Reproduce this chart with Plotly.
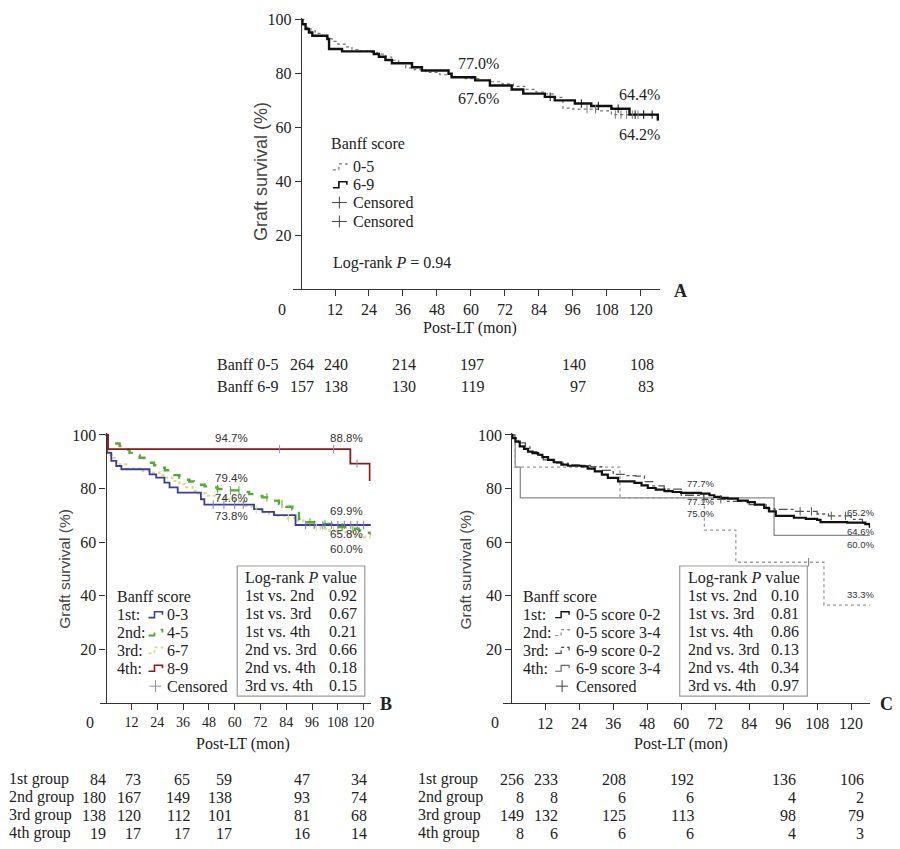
import plotly.graph_objects as go

# ---------------- data ----------------
# Panel A: Banff score 0-5 vs 6-9 (step points: time in months, survival %)
a_t_05 = [0, 1, 2, 3.5, 5, 7, 9, 11, 13, 15.5, 18, 21, 24, 27, 30, 32, 34.5, 37, 40, 44, 49, 53, 58,
          63, 67, 71, 75, 79, 83, 86, 89, 92.5, 96, 105, 109.6, 122, 126]
a_s_05 = [100, 98.6, 97.2, 96, 95, 94, 93, 92, 91, 90, 89, 88.4, 87.9, 87.3, 86.2, 85, 83.8, 82.2, 81.5,
          80.5, 79.6, 78.7, 78.2, 77.5, 77, 76.2, 75.3, 74.2, 73.2, 72.5, 71.2, 67.2, 66.8, 66.2, 64.8, 64.5, 62.5]
a_t_69 = [0, 0.5, 1.6, 2.8, 4.0, 9.3, 9.9, 14.5, 25.7, 27.5, 29.8, 32.1, 39.2, 42.7, 52.1, 53.2, 61.5,
          66.7, 74.4, 78.5, 86.1, 89.6, 96.7, 102.5, 109.6, 116, 126]
a_s_69 = [100, 98.4, 96.6, 95.3, 94.1, 92.9, 89.2, 88.3, 87.3, 86.3, 85.1, 83.9, 82.4, 81.2, 80.0, 78.7,
          77.5, 75.6, 74.1, 72.6, 71.4, 70.1, 68.9, 68.0, 67.0, 64.8, 62.6]
a_cens_t_05 = [101, 104, 111, 113, 115, 117, 119, 121]
a_cens_s_05 = [66.8, 66.8, 64.8, 64.8, 64.8, 64.8, 64.8, 64.8]
a_cens_t_69 = [88, 99, 105, 112, 118, 121, 124]
a_cens_s_69 = [71.4, 68.9, 68.0, 67.0, 64.8, 64.8, 64.8]

# Panel B: four Banff score groups
b_t_1 = [0, 0.6, 2.6, 4.9, 7.3, 20.4, 23.5, 27.3, 29.7, 33.5, 44.3, 45.9, 69, 72.9, 78.3, 88.3, 123.7]
b_s_1 = [100, 93.3, 90.3, 88.4, 87.2, 85.3, 84.1, 82.2, 80.4, 78.5, 76.0, 74.0, 72.3, 71.3, 70.1, 66.4, 66.4]
b_t_2 = [0, 0.8, 3, 6.5, 9, 11.1, 13.5, 15.8, 18, 20.4, 22.5, 25, 27.5, 29.7, 32, 34.3, 36.5, 38.9, 41,
         43.5, 46, 48.2, 52, 57.4, 63, 66.7, 70, 72.9, 77, 80.6, 84, 86.8, 89.9, 93, 97, 100.7, 105,
         108.4, 113, 117.7, 121, 123.3]
b_s_2 = [100, 97.7, 96.8, 95.8, 94.5, 93.3, 92.3, 91.5, 90.5, 89.6, 88.7, 87.8, 86.8, 85.9, 85, 84.1,
         83.3, 82.6, 82, 81.4, 80.8, 80.4, 79.8, 79.3, 78.7, 77.9, 77.2, 76.7, 75.5, 74.2, 73.2, 72.3,
         68.6, 67.4, 67, 66.8, 66.2, 65.6, 65, 64.4, 63.5, 62.6]
b_t_3 = [0, 0.8, 2, 3.4, 5, 6.5, 9.6, 17.3, 21.9, 25, 28.1, 31, 34.3, 37, 40.4, 43, 46.6, 51, 55.9, 62,
         65, 68, 72, 76, 80, 84, 88, 92, 96, 100, 104, 108, 112, 116, 119, 123.3]
b_s_3 = [100, 93.9, 92.5, 91.4, 90, 89, 87.4, 86.5, 85.9, 85, 84.1, 82.8, 81.6, 80.5, 79.1, 78.2, 77.3,
         76.6, 76.0, 75, 73.5, 72.3, 71.1, 70.5, 69.8, 69, 68, 67, 65.6, 65, 64.3, 63.7, 63, 62.2, 61.8, 60.9]
b_t_4 = [0, 1.1, 113.8, 122.8]
b_s_4 = [100, 94.7, 89.3, 82.8]
b_cens_t_1 = [50, 55, 60, 64, 93, 97, 101, 105, 108, 111, 114, 117, 120]
b_cens_s_1 = [74.0, 74.0, 74.0, 74.0, 66.4, 66.4, 66.4, 66.4, 66.4, 66.4, 66.4, 66.4, 66.4]
b_cens_t_2 = [52, 58, 62, 75, 82, 95, 102, 110, 115]
b_cens_s_2 = [79.8, 79.3, 79.3, 76.7, 74.2, 67.4, 66.8, 65.6, 65.0]
b_cens_t_3 = [60, 70, 85, 98, 106, 114]
b_cens_s_3 = [76.0, 72.3, 69, 65.6, 64.3, 63]
b_cens_t_4 = [80.9, 106, 116.9]
b_cens_s_4 = [94.7, 94.7, 89.3]

# Panel C: Banff group x score
c_t_1 = [0, 0.3, 1.5, 3.0, 4.5, 5.9, 7.5, 9.5, 11, 13.0, 15, 17.7, 20, 24.8, 27, 29.5, 32, 34.1, 37.7,
         43.5, 46, 48.2, 51, 54.1, 57, 60, 67, 70, 71.7, 74, 76.4, 80, 83.5, 86, 89.3, 91, 93.4, 99.8,
         104, 108, 109.2, 118.6, 125, 126.6]
c_s_1 = [100, 98.8, 97.5, 95.7, 94.8, 93.8, 93.2, 92.6, 91.7, 90.7, 89.8, 88.9, 88.5, 88.3, 87.4, 86.4,
         85.2, 84, 82.7, 82.1, 81.2, 80.2, 79.6, 79, 78.7, 78.4, 78.1, 77.5, 76.9, 76.5, 76.2, 75.5, 74.9,
         74, 72.8, 71.5, 69.8, 69.1, 68.7, 68.3, 67.5, 67.3, 66.7, 65.4]
c_t_2 = [0, 1.4, 38.4, 68.2, 79.3, 110.4, 126.6]
c_s_2 = [100, 88, 76.5, 64.5, 52.5, 36.5, 36.5]
c_t_3 = [0, 1, 2.5, 5, 6.6, 9, 11.3, 16, 20, 24, 28, 32, 36, 40, 44, 47, 50, 54, 60, 68, 76, 84, 90,
         93, 100, 108, 112, 120, 124, 126.6]
c_s_3 = [100, 98.8, 97, 95.5, 93.8, 92.5, 90.7, 89.5, 88.8, 88.6, 88.2, 86.8, 85.3, 84.8, 84.6, 82.6,
         81, 79.8, 77.5, 76, 75.2, 74, 72.5, 72.2, 71.5, 70.5, 69.8, 68.5, 67, 65.5]
c_t_4 = [0, 1.4, 3.2, 92.8, 126.6]
c_s_4 = [100, 88, 76.5, 62.5, 62.5]
c_cens_t_2 = [105]
c_cens_s_2 = [52.5]
c_cens_t_3 = [74, 102, 106, 113, 118]
c_cens_s_3 = [76.0, 71.5, 71.5, 69.8, 69.8]

# number at risk tables
risk_times = [0, 12, 36, 60, 96, 120]
a_risk_labels = ["Banff 0-5", "Banff 6-9"]
a_risk = [[264, 240, 214, 197, 140, 108], [157, 138, 130, 119, 97, 83]]
group_labels = ["1st group", "2nd group", "3rd group", "4th group"]
b_risk = [[84, 73, 65, 59, 47, 34], [180, 167, 149, 138, 93, 74],
          [138, 120, 112, 101, 81, 68], [19, 17, 17, 17, 16, 14]]
c_risk = [[256, 233, 208, 192, 136, 106], [8, 8, 6, 6, 4, 2],
          [149, 132, 125, 113, 98, 79], [8, 6, 6, 6, 4, 3]]

# log-rank tables
comparisons = ["1st vs. 2nd", "1st vs. 3rd", "1st vs. 4th", "2nd vs. 3rd", "2nd vs. 4th", "3rd vs. 4th"]
b_pvals = ["0.92", "0.67", "0.21", "0.66", "0.18", "0.15"]
c_pvals = ["0.10", "0.81", "0.86", "0.13", "0.34", "0.97"]

# legends / labels
a_groups = ["0-5", "6-9"]
b_prefix = ["1st:", "2nd:", "3rd:", "4th:"]
b_groups = ["0-3", "4-5", "6-7", "8-9"]
c_groups = ["0-5 score 0-2", "0-5 score 3-4", "6-9 score 0-2", "6-9 score 3-4"]
a_pct = ["77.0%", "67.6%", "64.4%", "64.2%"]
b_pct = ["94.7%", "88.8%", "79.4%", "74.6%", "73.8%", "69.9%", "65.8%", "60.0%"]
c_pct = ["77.7%", "77.1%", "75.0%", "65.2%", "64.6%", "60.0%", "33.3%"]

# ---------------- figure ----------------
W, H = 900, 849
SERIF = "Liberation Serif"
SANS = "Liberation Sans"
TXT = "#222222"


def px(x):
    return x / W


def py(y):
    return 1 - y / H


fig = go.Figure()


def curve(t, s, ax, color, width, dash="solid"):
    fig.add_trace(go.Scatter(x=t, y=s, mode="lines", xaxis="x" + ax, yaxis="y" + ax,
                             line=dict(shape="hv", color=color, width=width, dash=dash),
                             hoverinfo="skip"))


def censor(t, s, ax, color):
    fig.add_trace(go.Scatter(x=t, y=s, mode="markers", xaxis="x" + ax, yaxis="y" + ax,
                             marker=dict(symbol="line-ns", size=6, color=color,
                                         line=dict(width=1, color=color)),
                             hoverinfo="skip"))


def note(x, y, text, size=16, family=SERIF, anchor="left", color=TXT, **kw):
    fig.add_annotation(x=px(x), y=py(y), xref="paper", yref="paper", text=text, showarrow=False,
                       xanchor=anchor, yanchor="middle", font=dict(family=family, size=size, color=color),
                       **kw)


def step_icon(x0, yc, color, width, dash="solid"):
    path = (f"M {px(x0)},{py(yc + 3)} L {px(x0 + 6)},{py(yc + 3)} L {px(x0 + 6)},{py(yc - 3)} "
            f"L {px(x0 + 14)},{py(yc - 3)} L {px(x0 + 14)},{py(yc)}")
    fig.add_shape(type="path", path=path, xref="paper", yref="paper",
                  line=dict(color=color, width=width, dash=dash))


def cross_icon(x0, yc, color, w=15):
    fig.add_shape(type="line", xref="paper", yref="paper", x0=px(x0), x1=px(x0 + w),
                  y0=py(yc), y1=py(yc), line=dict(color=color, width=1))
    fig.add_shape(type="line", xref="paper", yref="paper", x0=px(x0 + w / 2), x1=px(x0 + w / 2),
                  y0=py(yc - 6), y1=py(yc + 6), line=dict(color=color, width=1))


# panel A curves
curve(a_t_05, a_s_05, "", "#777777", 1.2, "dot")
curve(a_t_69, a_s_69, "", "#111111", 2.4)
censor(a_cens_t_05, a_cens_s_05, "", "#777777")
censor(a_cens_t_69, a_cens_s_69, "", "#111111")

# panel B curves
B_COL = ["#3d3d9e", "#5aa832", "#d6dc8e", "#8b1a1a"]
curve(b_t_3, b_s_3, "2", B_COL[2], 2.2, "dot")
curve(b_t_2, b_s_2, "2", B_COL[1], 2.4, "dash")
curve(b_t_1, b_s_1, "2", B_COL[0], 1.8)
curve(b_t_4, b_s_4, "2", B_COL[3], 1.8)
censor(b_cens_t_3, b_cens_s_3, "2", B_COL[2])
censor(b_cens_t_2, b_cens_s_2, "2", B_COL[1])
censor(b_cens_t_1, b_cens_s_1, "2", "#7a7ac0")
censor(b_cens_t_4, b_cens_s_4, "2", "#9a8ab0")

# panel C curves
curve(c_t_4, c_s_4, "3", "#8a8a8a", 1.3)
curve(c_t_2, c_s_2, "3", "#9a9a9a", 1.3, "dot")
curve(c_t_3, c_s_3, "3", "#555555", 1.3, "dashdot")
curve(c_t_1, c_s_1, "3", "#111111", 2.2)
censor(c_cens_t_2, c_cens_s_2, "3", "#777777")
censor(c_cens_t_3, c_cens_s_3, "3", "#555555")

axis_common = dict(showgrid=False, zeroline=False, showline=True, linecolor="#333333", linewidth=1.4,
                   ticks="outside", ticklen=6, tickwidth=1.2, tickcolor="#333333", tickangle=0)
tick16 = dict(family=SERIF, size=16, color=TXT)
tick14 = dict(family=SERIF, size=14, color=TXT)
xt = [12, 24, 36, 48, 60, 72, 84, 96, 108, 120]
yt = [20, 40, 60, 80, 100]

fig.update_layout(
    width=W, height=H, margin=dict(l=0, r=0, t=0, b=0), showlegend=False,
    plot_bgcolor="white", paper_bgcolor="white",
    xaxis=dict(domain=[px(293.5), px(662)], range=[-3, 126.7], anchor="y", tickvals=xt,
               tickfont=tick16, **axis_common),
    yaxis=dict(domain=[py(285), py(11.8)], range=[0, 100.8], anchor="free", position=px(302),
               tickvals=yt, tickfont=tick16, **axis_common),
    xaxis2=dict(domain=[px(100), px(372)], range=[-2.8, 123.3], anchor="y2", tickvals=xt,
                tickfont=tick14, **axis_common),
    yaxis2=dict(domain=[py(702), py(429.8)], range=[0, 100.8], anchor="free", position=px(106),
                tickvals=yt, tickfont=tick16, **axis_common),
    xaxis3=dict(domain=[px(505), px(873)], range=[-2.8, 126.7], anchor="y3", tickvals=xt,
                tickfont=tick16, **axis_common),
    yaxis3=dict(domain=[py(702), py(429.8)], range=[0, 100.8], anchor="free", position=px(513),
                tickvals=yt, tickfont=tick16, **axis_common),
)

# ---- panel A texts ----
note(283, 306, "0", anchor="center")
note(472, 324, "Post-LT (mon)", anchor="center")
note(262, 167, "Graft survival (%)", size=18, family=SANS, anchor="center", color="#444444", textangle=-90)
note(683, 287, "<b>A</b>", size=18, anchor="center")
note(330, 138, "Banff score")
step_icon(334, 162, "#777777", 1.2, "dot")
step_icon(334, 180, "#111111", 1.6)
cross_icon(333, 198, "#444444")
cross_icon(333, 217, "#444444")
for i, g in enumerate(a_groups):
    note(352, 162 + 18 * i, g)
note(352, 198, "Censored")
note(352, 217, "Censored")
note(332, 259, "Log-rank <i>P</i> = 0.94")
for lab, (x, y) in zip(a_pct, [(480, 58), (480, 93), (642, 89), (642, 129)]):
    note(x, y, lab, anchor="center")

# ---- panel B texts ----
note(90, 722, "0", anchor="center")
note(244, 743, "Post-LT (mon)", anchor="center")
note(65, 567, "Graft survival (%)", size=15.5, family=SANS, anchor="center", color="#444444", textangle=-90)
note(387, 703, "<b>B</b>", size=18, anchor="center")
note(115, 595, "Banff score")
b_styles = [("solid", 1.6), ("dash", 1.8), ("dot", 1.8), ("solid", 1.6)]
for i in range(4):
    yy = 613 + 18 * i
    note(115, yy, b_prefix[i])
    step_icon(149, yy, B_COL[i], b_styles[i][1], b_styles[i][0])
    note(166, yy, b_groups[i])
cross_icon(150, 685, "#8a8ac0", w=12)
note(166, 685, "Censored")
for lab, (x, y) in zip(b_pct, [(232, 435), (348, 435), (232, 475), (232, 496), (232, 514),
                               (348, 509), (348, 532), (348, 547)]):
    note(x, y, lab, size=11.5, family=SANS, anchor="center", color="#333333")
fig.add_shape(type="rect", xref="paper", yref="paper", x0=px(238), x1=px(366), y0=py(695), y1=py(564),
              line=dict(color="#9a9a9a", width=1.2), fillcolor="white", layer="below")
note(244, 576, "Log-rank <i>P</i> value")
for i, (c, p) in enumerate(zip(comparisons, b_pvals)):
    note(244, 594 + 18 * i, c)
    note(360, 594 + 18 * i, p, anchor="right")

# ---- panel C texts ----
note(497, 722, "0", anchor="center")
note(683, 743, "Post-LT (mon)", anchor="center")
note(468, 567, "Graft survival (%)", size=15.5, family=SANS, anchor="center", color="#444444", textangle=-90)
note(889, 703, "<b>C</b>", size=18, anchor="center")
note(523, 595, "Banff score")
c_styles = [("#111111", 1.4, "solid"), ("#888888", 1.2, "dot"), ("#444444", 1.2, "dashdot"),
            ("#666666", 1.2, "solid")]
for i in range(4):
    yy = 613 + 18 * i
    note(523, yy, b_prefix[i])
    step_icon(557, yy, *c_styles[i])
    note(576, yy, c_groups[i])
cross_icon(558, 685, "#444444", w=12)
note(576, 685, "Censored")
for lab, (x, y) in zip(c_pct, [(703, 481), (703, 499), (703, 511), (863, 510), (863, 529),
                               (863, 542), (863, 593)]):
    note(x, y, lab, size=9.5, family=SANS, anchor="center", color="#333333")
fig.add_shape(type="rect", xref="paper", yref="paper", x0=px(682), x1=px(810), y0=py(695), y1=py(564),
              line=dict(color="#9a9a9a", width=1.2), fillcolor="white", layer="below")
note(688, 576, "Log-rank <i>P</i> value")
for i, (c, p) in enumerate(zip(comparisons, c_pvals)):
    note(688, 594 + 18 * i, c)
    note(804, 594 + 18 * i, p, anchor="right")

# ---- number-at-risk tables ----
for r, (lab, row) in enumerate(zip(a_risk_labels, a_risk)):
    yy = py(361 + 22 * r)
    note(216, 361 + 22 * r, lab)
    for t, n in zip(risk_times, row):
        fig.add_annotation(x=t, xref="x", y=yy, yref="paper", text=str(n), showarrow=False,
                           xanchor="right", yanchor="middle", xshift=15,
                           font=dict(family=SERIF, size=16, color=TXT))
# the B table columns do not sit evenly on the ticks; nudge each column (px)
b_col_shift = [2, 12, 9, -1, 0, 5]
for r, lab in enumerate(group_labels):
    yy = 779 + 18 * r
    note(7, yy, lab)
    note(417, yy, lab)
    for k, (t, nb, nc) in enumerate(zip(risk_times, b_risk[r], c_risk[r])):
        fig.add_annotation(x=t, xref="x2", y=py(yy), yref="paper", text=str(nb), showarrow=False,
                           xanchor="right", yanchor="middle", xshift=b_col_shift[k],
                           font=dict(family=SERIF, size=16, color=TXT))
        fig.add_annotation(x=t, xref="x3", y=py(yy), yref="paper", text=str(nc), showarrow=False,
                           xanchor="right", yanchor="middle", xshift=15,
                           font=dict(family=SERIF, size=16, color=TXT))

# page body has a default 8px margin; drop it so the figure fills the window
fig.write_html("out.html", config={"displayModeBar": False},
               post_script="document.body.style.margin = '0';")
